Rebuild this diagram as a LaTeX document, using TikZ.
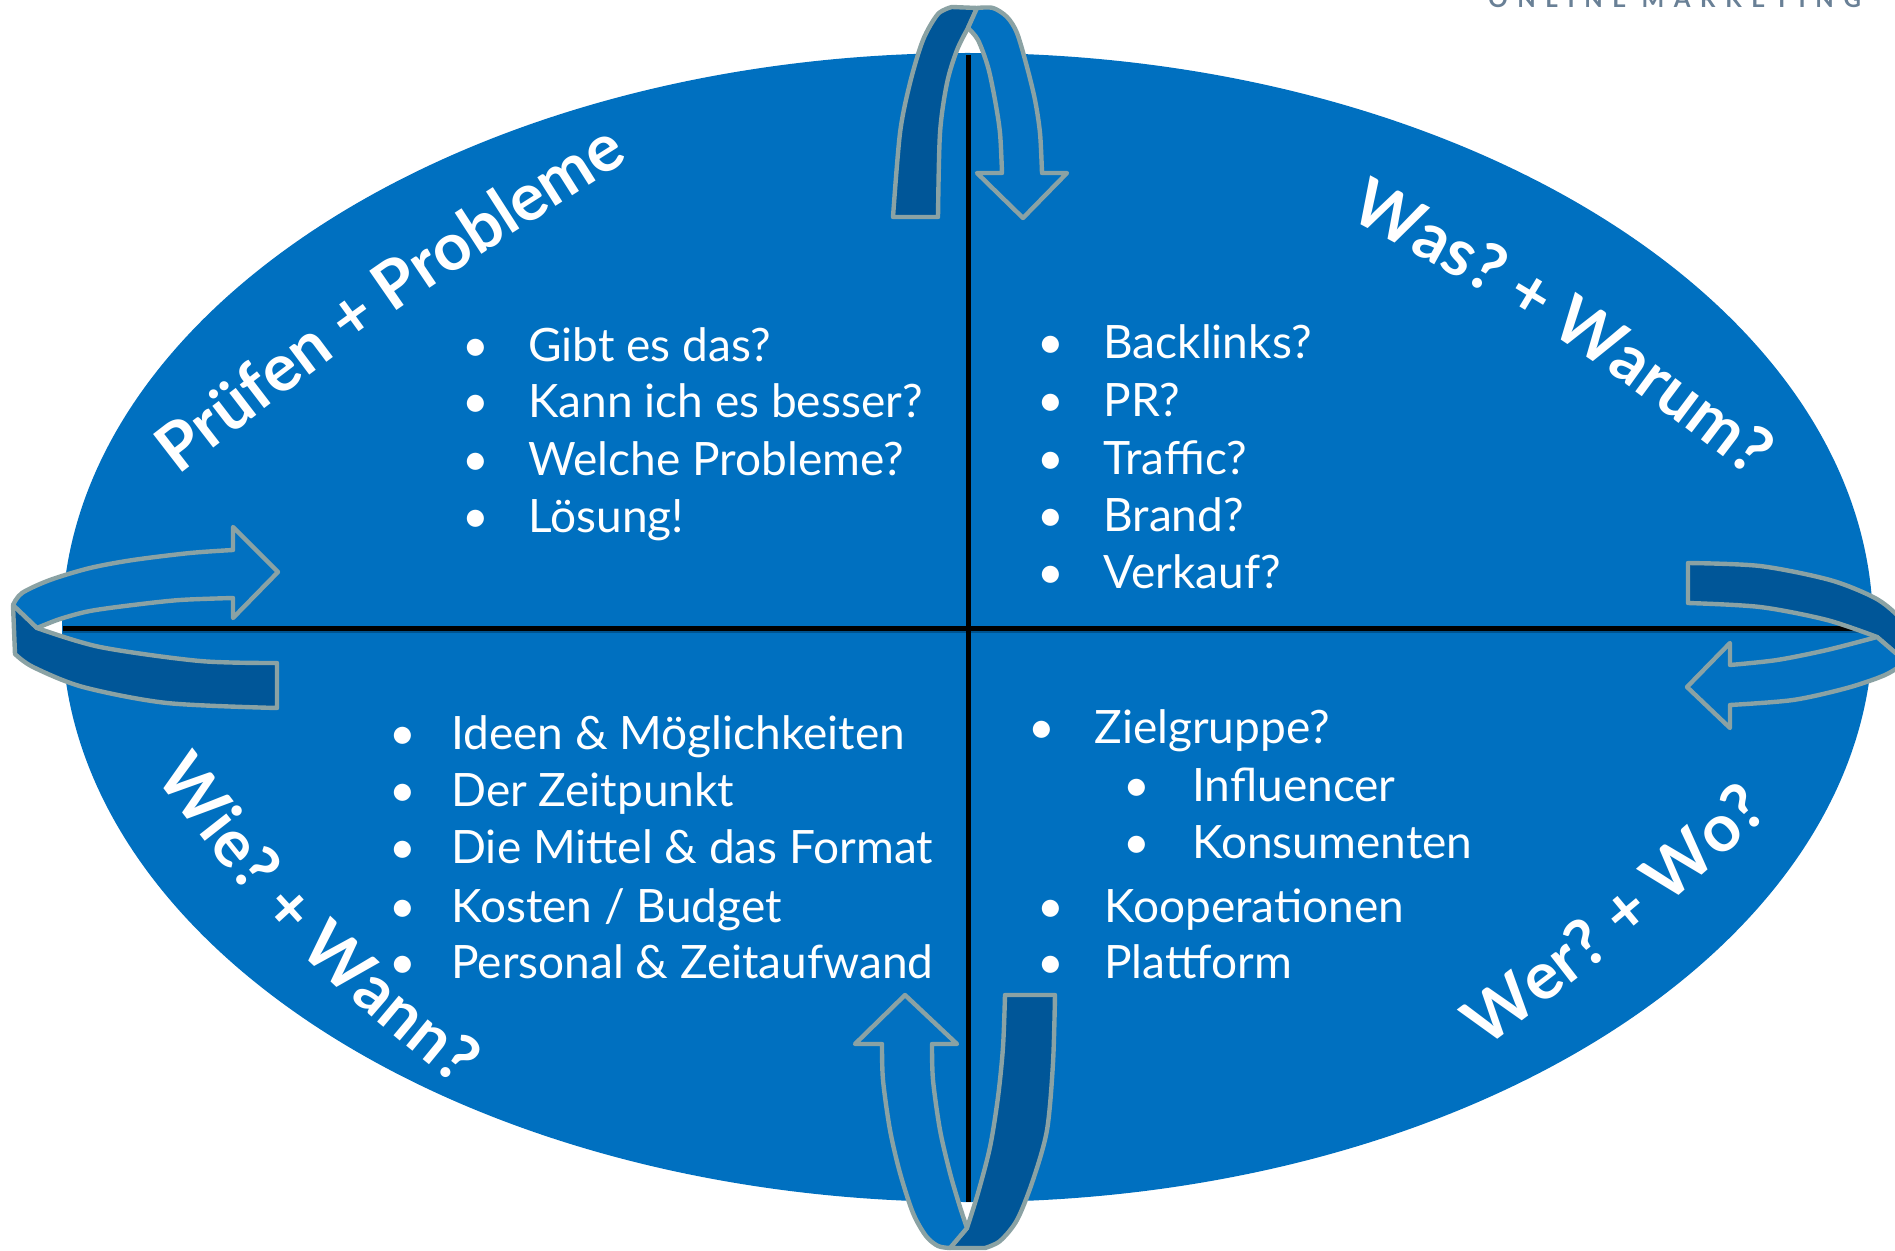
\documentclass[tikz,border=0pt]{standalone}
\usepackage{fontspec}
\setmainfont{Lato}
\usetikzlibrary{decorations.text}
\definecolor{ellblue}{RGB}{0,112,192}
\definecolor{frontblue}{RGB}{2,113,193}
\definecolor{backblue}{RGB}{0,86,152}
\definecolor{ribbonedge}{RGB}{138,162,164}
\definecolor{logogray}{RGB}{105,128,150}
\newcommand{\headfont}{\fontsize{33}{39}\selectfont\bfseries}
\tikzset{
  bodytext/.style={text=white, font=\fontsize{23}{27}\selectfont, inner sep=0pt, anchor=base west},
  bulletmark/.style={text=white, font=\fontsize{23}{27}\selectfont, inner sep=0pt, anchor=base},
  ribbonfront/.style={fill=frontblue, draw=ribbonedge, line width=2.2pt, line join=round},
  ribbonback/.style={fill=backblue, draw=ribbonedge, line width=2.2pt, line join=round},
  axisline/.style={black, line width=2.5pt},
  axisshadow/.style={black, line width=2pt, opacity=0.25},
  heading/.style={decorate, decoration={text along path, text color=white, text align=center, raise=-9pt, text={#1}}},
}
\begin{document}
\begin{tikzpicture}[x=0.5pt,y=-0.5pt]
\useasboundingbox (0,0) rectangle (1895,1251);
\clip (0,0) rectangle (1895,1251);
\fill[white] (0,0) rectangle (1895,1251);

% logo (cut at the top edge)
\node[anchor=base west, inner sep=0pt, text=logogray,
      font=\fontsize{12}{14}\selectfont\bfseries\addfontfeature{LetterSpace=40}] (logo) at (1488,8) {ONLINE MARKETING};

% ellipse
\fill[ellblue] (967.5,627.5) ellipse [x radius=452.75pt, y radius=287.25pt];

% axes
\coordinate (vtop) at (968,55);
\coordinate (vbot) at (968,1202);
\coordinate (hleft) at (63,628);
\coordinate (hright) at (1874,628);
\draw[axisshadow] ([yshift=-1.5pt]hleft) -- ([yshift=-1.5pt]hright);
\draw[axisline] (vtop) -- (vbot);
\draw[axisline] (hleft) -- (hright);

% top ribbon arrow
\filldraw[ribbonback] (893,217) -- plot[smooth] coordinates {(893,217) (900,133) (910,83) (923,40) (938,14) (952,7)}
   -- (977,8) -- (968,28)
   -- plot[smooth] coordinates {(968,28) (957,50) (947,83) (940,133) (938,217)} -- cycle;
\filldraw[ribbonfront] (977,8) -- plot[smooth] coordinates {(977,8) (993,8) (1007,17) (1017,33) (1027,67) (1035,100) (1040,133) (1042,173)}
   -- (1067,173) -- (1023,218) -- (977,173) -- (1002,173)
   -- plot[smooth] coordinates {(1002,173) (1000,133) (995,100) (988,67) (978,40) (968,28)} -- cycle;

% bottom ribbon arrow
\filldraw[ribbonback] (1005,995) -- (1055,995)
   -- plot[smooth] coordinates {(1055,995) (1053,1063) (1047,1130) (1033,1180) (1017,1220) (1000,1241) (985,1248)}
   -- (950,1248) -- (967,1228)
   -- plot[smooth] coordinates {(967,1228) (978,1193) (990,1147) (998,1097) (1003,1047) (1005,995)} -- cycle;
\filldraw[ribbonfront] (905,995) -- (957,1044) -- (932,1044)
   -- plot[smooth] coordinates {(932,1044) (933,1080) (940,1130) (950,1173) (960,1207) (967,1228)}
   -- (950,1248)
   -- plot[smooth] coordinates {(950,1248) (938,1246) (926,1236) (913,1213) (900,1173) (890,1130) (883,1080) (882,1044)}
   -- (855,1044) -- cycle;

% left ribbon arrow
\filldraw[ribbonback] (13,605) -- (37,628)
   -- plot[smooth] coordinates {(37,628) (100,647) (200,661) (277,663)}
   -- (277,708)
   -- plot[smooth] coordinates {(277,708) (167,703) (83,687) (33,667) (15,654)}
   -- cycle;
\filldraw[ribbonfront] (13,605)
   -- plot[smooth] coordinates {(13,605) (22,593) (50,580) (90,568) (133,560) (190,553) (233,550)}
   -- (233,527) -- (278,572) -- (233,618) -- (233,598)
   -- plot[smooth] coordinates {(233,598) (180,600) (133,605) (90,611) (60,619) (37,628)}
   -- cycle;

% right ribbon arrow (cut at the right edge)
\filldraw[ribbonback] (1688,563)
   -- plot[smooth] coordinates {(1688,563) (1760,566) (1830,580) (1875,598) (1898,616) (1906,630)}
   -- (1906,662) -- (1877,637)
   -- plot[smooth] coordinates {(1877,637) (1827,620) (1760,607) (1688,603)} -- cycle;
\filldraw[ribbonfront] (1906,662)
   -- plot[smooth] coordinates {(1906,662) (1885,675) (1847,688) (1793,700) (1730,705)}
   -- (1730,728) -- (1687,687) -- (1730,643) -- (1730,665)
   -- plot[smooth] coordinates {(1730,665) (1777,660) (1827,650) (1877,637)} -- cycle;

% headings
\path[heading={|\headfont|Prüfen + Probleme}] (125,494) .. controls (386,292) .. (665,116);
\path[heading={|\headfont|Was? + Warum?}] (1296,170) .. controls (1570,316) .. (1815,505);
\path[heading={|\headfont|Wie? + Wann?}] (128,712) .. controls (300,938) .. (520,1115);
\path[heading={|\headfont|Wer? + Wo?}] (1440,1060) .. controls (1621,924) .. (1790,772);

% top-left list
\node[bulletmark] (b11) at (476,362) {•};
\node[bodytext] (t11) at (528,362) {Gibt es das?};
\node[bulletmark] (b12) at (476,418) {•};
\node[bodytext] (t12) at (528,418) {Kann ich es besser?};
\node[bulletmark] (b13) at (476,475) {•};
\node[bodytext] (t13) at (528,475) {Welche Probleme?};
\node[bulletmark] (b14) at (476,532) {•};
\node[bodytext] (t14) at (528,532) {Lösung!};

% top-right list
\node[bulletmark] (b21) at (1051,359) {•};
\node[bodytext] (t21) at (1103,359) {Backlinks?};
\node[bulletmark] (b22) at (1051,416) {•};
\node[bodytext] (t22) at (1103,416) {PR?};
\node[bulletmark] (b23) at (1051,474) {•};
\node[bodytext] (t23) at (1103,474) {Traffic?};
\node[bulletmark] (b24) at (1051,531) {•};
\node[bodytext] (t24) at (1103,531) {Brand?};
\node[bulletmark] (b25) at (1051,588) {•};
\node[bodytext] (t25) at (1103,588) {Verkauf?};

% bottom-left list
\node[bulletmark] (b31) at (403,749) {•};
\node[bodytext] (t31) at (451,749) {Ideen \& Möglichkeiten};
\node[bulletmark] (b32) at (403,806) {•};
\node[bodytext] (t32) at (451,806) {Der Zeitpunkt};
\node[bulletmark] (b33) at (403,863) {•};
\node[bodytext] (t33) at (451,863) {Die Mittel \& das Format};
\node[bulletmark] (b34) at (403,922) {•};
\node[bodytext] (t34) at (451,922) {Kosten / Budget};
\node[bulletmark] (b35) at (403,978) {•};
\node[bodytext] (t35) at (451,978) {Personal \& Zeitaufwand};

% bottom-right list
\node[bulletmark] (b41) at (1042,743) {•};
\node[bodytext] (t41) at (1094,743) {Zielgruppe?};
\node[bulletmark] (b42) at (1137,801) {•};
\node[bodytext] (t42) at (1192,801) {Influencer};
\node[bulletmark] (b43) at (1137,858) {•};
\node[bodytext] (t43) at (1192,858) {Konsumenten};
\node[bulletmark] (b44) at (1051,922) {•};
\node[bodytext] (t44) at (1104,922) {Kooperationen};
\node[bulletmark] (b45) at (1051,978) {•};
\node[bodytext] (t45) at (1104,978) {Plattform};
\end{tikzpicture}
\end{document}
